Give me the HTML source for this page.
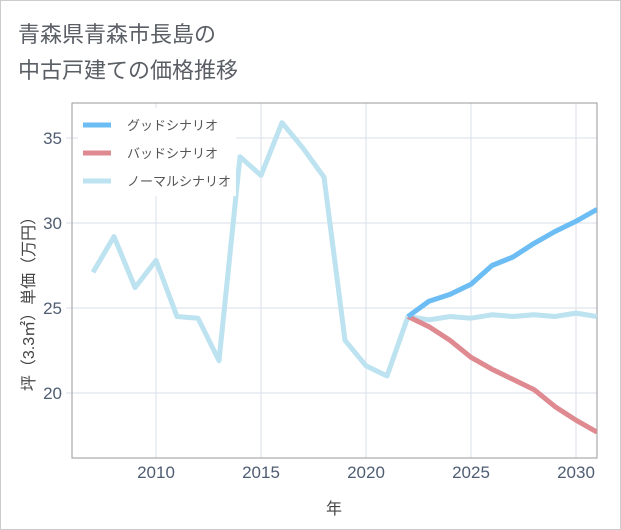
<!DOCTYPE html>
<html><head><meta charset="utf-8"><style>
body{margin:0;background:#fff;}
svg{display:block;font-family:"Liberation Sans","Noto Sans CJK JP",sans-serif;}
</style></head><body>
<svg id="c" width="621" height="530">
<rect x="0.5" y="0.5" width="620" height="529" fill="#fff" stroke="#ccc"/>
<text x="18" y="42" font-size="22" fill="#5a5f66">青森県青森市長島の</text>
<text x="18" y="78" font-size="22" fill="#5a5f66">中古戸建ての価格推移</text>
<g id="grid"></g>
<rect x="72" y="103" width="525" height="355" fill="none" stroke="#999"/>
<g id="series"></g>
<g>
<rect x="78" y="108" width="158" height="88" fill="#fff"/>
<line x1="83" y1="125" x2="111" y2="125" stroke="#6cbdf3" stroke-width="5"/>
<text x="127" y="130" font-size="13" fill="#555">グッドシナリオ</text>
<line x1="83" y1="153" x2="111" y2="153" stroke="#de8a90" stroke-width="5"/>
<text x="127" y="158" font-size="13" fill="#555">バッドシナリオ</text>
<line x1="83" y1="181" x2="111" y2="181" stroke="#bde2f0" stroke-width="5"/>
<text x="127" y="186" font-size="13" fill="#555">ノーマルシナリオ</text>
</g>
<text x="334" y="514" font-size="16" fill="#444" text-anchor="middle">年</text>
<text transform="translate(34,300) rotate(-90)" font-size="16" fill="#444" text-anchor="middle">坪（3.3㎡）単価（万円）</text>
</svg>
<script>
const years=[2007,2008,2009,2010,2011,2012,2013,2014,2015,2016,2017,2018,2019,2020,2021,2022,2023,2024,2025,2026,2027,2028,2029,2030,2031];
const normal=[27.1,29.2,26.2,27.8,24.5,24.4,21.9,33.9,32.8,35.9,34.4,32.7,23.1,21.6,21.0,24.5,24.3,24.5,24.4,24.6,24.5,24.6,24.5,24.7,24.5];
const futureYears=[2022,2023,2024,2025,2026,2027,2028,2029,2030,2031];
const good=[24.5,25.4,25.8,26.4,27.5,28.0,28.8,29.5,30.1,30.8];
const bad=[24.5,23.9,23.1,22.1,21.4,20.8,20.2,19.2,18.4,17.7];
const xTicks=[2010,2015,2020,2025,2030];
const yTicks=[20,25,30,35];
const X=y=>156+(y-2010)*21;
const Y=v=>308-(v-25)*17;
const NS="http://www.w3.org/2000/svg";
const grid=document.getElementById('grid'),ser=document.getElementById('series');
function mk(tag,attrs,parent){const e=document.createElementNS(NS,tag);for(const k in attrs)e.setAttribute(k,attrs[k]);parent.appendChild(e);return e;}
xTicks.forEach(t=>{
 const l=mk('line',{x1:X(t),x2:X(t),y1:103,y2:458,stroke:'#d8e0ea'},grid);
 
 
 const tx=mk('text',{x:X(t),y:478,'font-size':17,fill:'#4f5d73','text-anchor':'middle'},grid);
 tx.textContent=t;
 
 
});
yTicks.forEach(t=>{
 const l=mk('line',{x1:66,x2:597,y1:Y(t),y2:Y(t),stroke:'#d8e0ea'},grid);
 
 
 const tx=mk('text',{x:62,y:Y(t)+6,'font-size':17,fill:'#4f5d73','text-anchor':'end'},grid);
 tx.textContent=t;
 
 
});
function line(xs,vs,color,name){
 const p=mk('polyline',{points:xs.map((x,i)=>X(x)+','+Y(vs[i])).join(' '),fill:'none',stroke:color,'stroke-width':5,'stroke-linejoin':'round'},ser);
 
 
}
const clip=mk('clipPath',{id:'cp'},document.getElementById('c'));
mk('rect',{x:72,y:103,width:525,height:355},clip);
ser.setAttribute('clip-path','url(#cp)');
line(years,normal,'#bde2f0','normal-scenario-line');
line(futureYears,bad,'#de8a90','bad-scenario-line');
line(futureYears,good,'#6cbdf3','good-scenario-line');
</script>
</body></html>
